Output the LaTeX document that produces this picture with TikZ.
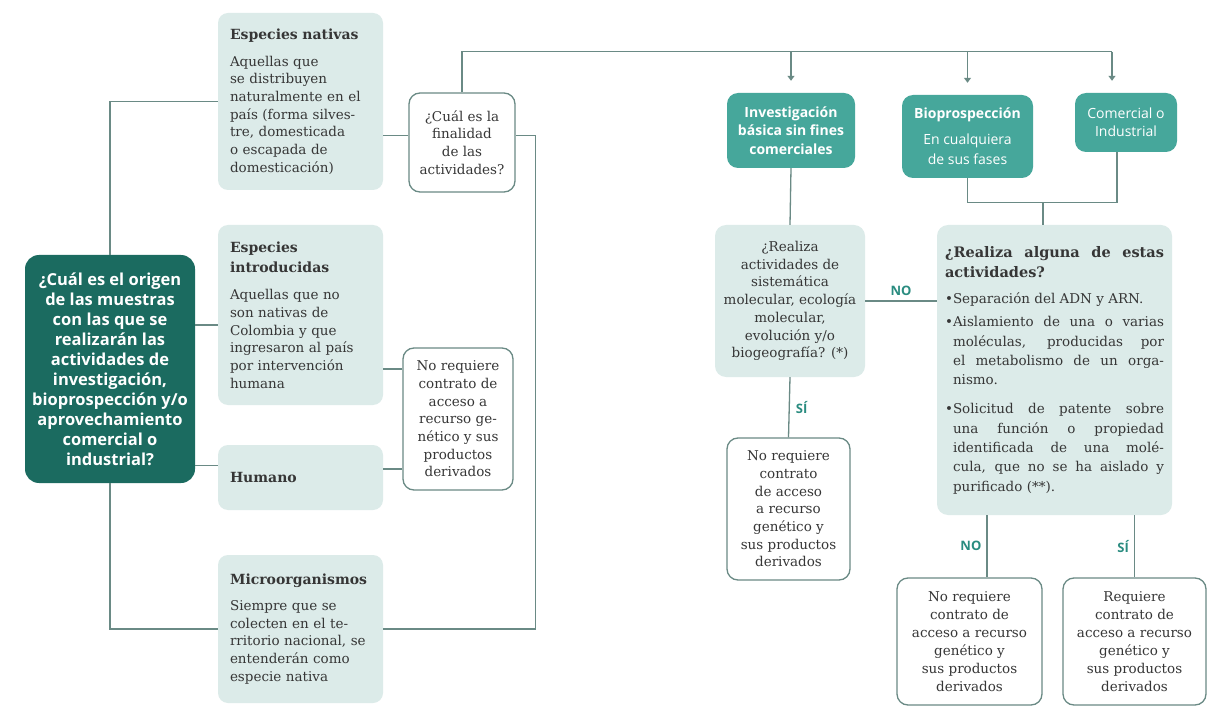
\documentclass[tikz,border=0pt]{standalone}
\usepackage{fontspec}
\setmainfont{DejaVu Serif}
\newfontfamily\opensans{Open Sans}
\usepackage{xcolor}
\usetikzlibrary{arrows.meta,calc}

\definecolor{darkteal}{HTML}{1B6B60}
\definecolor{midteal}{HTML}{46A79B}
\definecolor{paleteal}{HTML}{DCEBE9}
\definecolor{linegray}{HTML}{6A8A85}
\definecolor{labelteal}{HTML}{2A8C80}
\definecolor{textgray}{HTML}{363636}

\newcommand\cuerpo{\fontsize{13.5}{17.7}\selectfont}
\newcommand\titulo[1]{{\bfseries\fontsize{14}{17.7}\selectfont #1}}
\newcommand\vineta{\par\hangindent=8pt\hangafter=1\noindent\makebox[8pt][l]{•}}

\begin{document}
\begin{tikzpicture}[x=1pt,y=-1pt,
    con/.style={draw=linegray,line width=1.3pt},
    flecha/.style={con,-{Triangle[length=5pt,width=7pt]},shorten >=12pt},
    origenbox/.style={fill=darkteal,rounded corners=14pt,text=white,align=center,
        font=\opensans\bfseries\fontsize{16.5}{20}\selectfont,
        minimum width=170pt,minimum height=228pt,inner sep=4pt},
    tipobox/.style={fill=paleteal,rounded corners=10pt,text=textgray,align=left,
        text width=141pt,inner xsep=12pt,inner ysep=4pt,minimum height=#1,font=\cuerpo},
    preguntabox/.style={draw=linegray,line width=1.3pt,fill=white,rounded corners=11pt,
        text=textgray,align=center,font=\cuerpo,inner sep=3pt},
    consultabox/.style={fill=paleteal,rounded corners=11pt,text=textgray,
        align=center,font=\cuerpo,inner sep=3pt},
    finbox/.style={fill=midteal,rounded corners=11pt,text=white,align=center,
        font=\opensans\fontsize{14}{18.5}\selectfont,inner sep=3pt},
    etiqueta/.style={text=labelteal,font=\opensans\bfseries\fontsize{13}{15}\selectfont,inner sep=0pt}
]
\useasboundingbox (0,0) rectangle (1208,722);
\fill[white] (0,0) rectangle (1208,722);

% origen de las muestras
\node[origenbox] (origen) at (110,369) {¿Cuál es el origen\\de las muestras\\con las que se\\realizarán las\\actividades de\\investigación,\\bioprospección y/o\\aprovechamiento\\comercial o\\industrial?};

% tipos de muestra
\node[tipobox=177pt] (nativas) at (300.5,101.5) {\titulo{Especies nativas}\\[9pt]Aquellas que\\se distribuyen\\naturalmente en el\\país (forma silves-\\tre, domesticada\\o escapada de\\domesticación)};
\node[tipobox=180pt] (introd) at (300.5,315) {\titulo{Especies}\\[3pt]\titulo{introducidas}\\[9pt]Aquellas que no\\son nativas de\\Colombia y que\\ingresaron al país\\por intervención\\humana};
\node[tipobox=65pt] (humano) at (300.5,477.5) {\titulo{Humano}};
\node[tipobox=148pt] (micro) at (300.5,629) {\titulo{Microorganismos}\\[8pt]Siempre que se\\colecten en el te-\\rritorio nacional, se\\entenderán como\\especie nativa};

% preguntas intermedias
\node[preguntabox,minimum width=106pt,minimum height=99pt] (cual) at (462,142.5) {¿Cuál es la\\finalidad\\de las\\actividades?};
\node[preguntabox,minimum width=110pt,minimum height=142pt] (noreqL) at (458,419) {No requiere\\contrato de\\acceso a\\recurso ge-\\nético y sus\\productos\\derivados};

% finalidades
\node[finbox,font=\opensans\bfseries\fontsize{14}{18.5}\selectfont,minimum width=128pt,minimum height=75pt] (invest) at (791,130.5) {Investigación\\básica sin fines\\comerciales};
\node[finbox,font=\opensans\fontsize{14}{20}\selectfont,minimum width=131pt,minimum height=83pt] (bio) at (967.5,136.5) {\textbf{Bioprospección}\\[6pt]En cualquiera\\de sus fases};
\node[finbox,minimum width=102pt,minimum height=59pt] (comercial) at (1126,122.5) {Comercial o\\Industrial};

% consultas
\node[consultabox,minimum width=150pt,minimum height=152pt] (realizaM) at (790,301) {¿Realiza\\actividades de\\sistemática\\molecular, ecología\\molecular,\\evolución y/o\\biogeografía? (*)};
\node[consultabox,align=justify,text width=219pt,inner xsep=8pt,minimum height=290pt,font=\fontsize{13.5}{19.3}\selectfont] (realizaR) at (1054.5,370) {%
{\bfseries\fontsize{14.5}{20}\selectfont ¿Realiza alguna de estas actividades?\par}\vspace{7pt}%
\vineta Separación del ADN y ARN.\par\vspace{4pt}%
\vineta Aislamiento de una o varias\linebreak moléculas, producidas por\linebreak el metabolismo de un orga-\linebreak nismo.\par\vspace{10pt}%
\vineta Solicitud de patente sobre\linebreak una función o propiedad\linebreak identificada de una molé-\linebreak cula, que no se ha aislado y\linebreak purificado (**).\par};

% resultados
\node[preguntabox,minimum width=123pt,minimum height=142pt] (noreqM) at (788.5,509) {No requiere\\contrato\\de acceso\\a recurso\\genético y\\sus productos\\derivados};
\node[preguntabox,font=\fontsize{13.5}{18}\selectfont,minimum width=145pt,minimum height=127pt] (noreqR) at (969.5,641.5) {No requiere\\contrato de\\acceso a recurso\\genético y\\sus productos\\derivados};
\node[preguntabox,font=\fontsize{13.5}{18}\selectfont,minimum width=143pt,minimum height=127pt] (reqR) at (1134.5,641.5) {Requiere\\contrato de\\acceso a recurso\\genético y\\sus productos\\derivados};

% conectores del origen
\draw[con] (origen.north) |- (nativas.west);
\coordinate (c1) at ($(introd.west)+(0,10)$);
\draw[con] (c1) -- (c1 -| origen.east);
\coordinate (c2) at ($(humano.west)+(0,-12)$);
\draw[con] (c2) -- (c2 -| origen.east);
\draw[con] (origen.south) |- (micro.west);

% conectores a las preguntas
\coordinate (c3) at ($(cual.west)+(0,-7)$);
\draw[con] (c3) -- (c3 -| nativas.east);
\coordinate (c4) at ($(noreqL.west)+(0,-50)$);
\draw[con] (c4) -- (c4 -| introd.east);
\coordinate (c5) at ($(noreqL.west)+(0,50)$);
\draw[con] (c5) -- (c5 -| humano.east);
\coordinate (c6) at ($(cual.east)+(20,-7)$);
\draw[con] (micro.east) -| (c6) -- (c6 -| cual.east);

% finalidades
\coordinate (bus) at ($(cual.north)+(0,-41)$);
\coordinate (busEnd) at ($(comercial.north)+(-14,-41)$);
\draw[con] (cual.north) |- (busEnd);
\draw[flecha] (invest.north |- bus) -- (invest.north);
\draw[flecha] (bio.north |- bus) -- (bio.north);
\draw[flecha] (busEnd) -- (busEnd |- comercial.north);

\coordinate (merge) at ($(bio.south)+(75.5,24)$);
\draw[con] (bio.south) |- (merge) -| ($(comercial.south)+(-9,0)$);
\draw[con] (merge) -- (merge |- realizaR.north);

% consultas y resultados
\draw[con] (invest.south) -- (realizaM.north);
\draw[con] (realizaM.east) -- (realizaM.east -| realizaR.west) node[etiqueta,midway,above=5pt] {NO};
\draw[con] (realizaM.south) -- (noreqM.north) node[etiqueta,midway,right=6pt] {SÍ};
\coordinate (noPunto) at ($(noreqR.north)+(17.5,0)$);
\draw[con] (noPunto |- realizaR.south) -- (noPunto) node[etiqueta,midway,left=5pt] {NO};
\draw[con] (reqR.north |- realizaR.south) -- (reqR.north) node[etiqueta,midway,left=5pt] {SÍ};
\end{tikzpicture}
\end{document}
